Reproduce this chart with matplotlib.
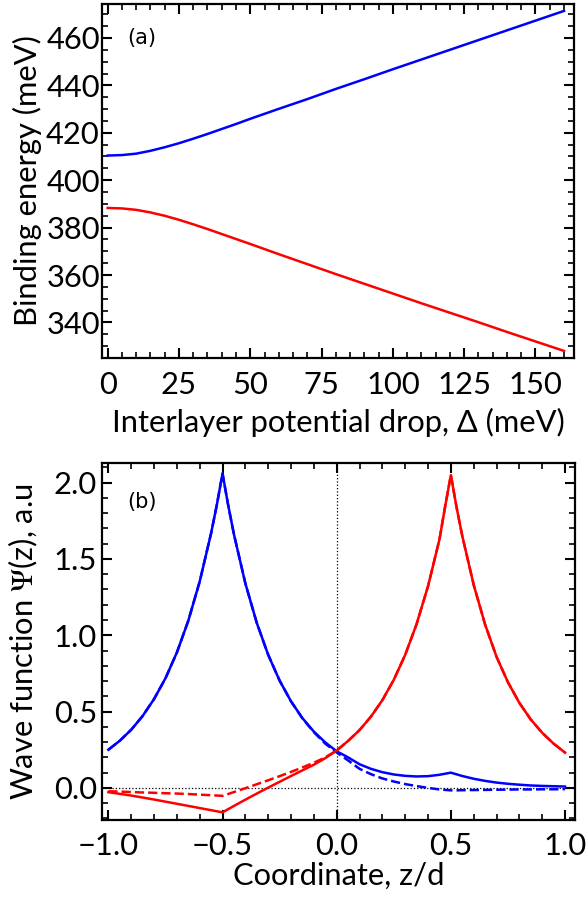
import matplotlib
matplotlib.use("Agg")
import matplotlib.pyplot as plt
from matplotlib.ticker import MultipleLocator

plt.rcParams['font.family'] = ['Lato', 'DejaVu Sans']
plt.rcParams['mathtext.fontset'] = 'stix'

# ---- Panel (a) data ----
delta = [0, 5, 10, 15, 20, 25, 30, 35, 40, 45, 50, 60, 70, 80, 90, 100,
         110, 120, 130, 140, 150, 160]
e_upper = [410.4, 410.6, 411.2, 412.4, 413.9, 415.6, 417.5, 419.5, 421.6, 423.7, 425.9,
           430.1, 434.2, 438.5, 442.6, 446.8, 450.9, 455.0, 459.1, 463.2, 467.3, 471.4]
e_lower = [388.3, 388.1, 387.5, 386.4, 385.0, 383.3, 381.4, 379.4, 377.3, 375.2, 373.1,
           368.8, 364.6, 360.4, 356.3, 352.2, 348.1, 344.1, 340.1, 336.0, 332.0, 328.0]

# ---- Panel (b) data ----
z = [-1.0, -0.95, -0.9, -0.85, -0.8, -0.75, -0.7, -0.65, -0.6, -0.55, -0.525, -0.5,
     -0.475, -0.45, -0.4, -0.35, -0.3, -0.25, -0.2, -0.15, -0.1, -0.05, 0.0,
     0.05, 0.1, 0.15, 0.2, 0.25, 0.3, 0.35, 0.4, 0.45, 0.475, 0.5,
     0.525, 0.55, 0.6, 0.65, 0.7, 0.75, 0.8, 0.85, 0.9, 0.95, 1.0]
blue_solid = [0.25, 0.309, 0.381, 0.471, 0.582, 0.718, 0.887, 1.095, 1.352, 1.669, 1.854, 2.06,
              1.850, 1.661, 1.340, 1.081, 0.872, 0.703, 0.567, 0.457, 0.369, 0.298, 0.240,
              0.200, 0.155, 0.125, 0.103, 0.088, 0.079, 0.075, 0.077, 0.086, 0.093, 0.100,
              0.089, 0.078, 0.060, 0.046, 0.035, 0.027, 0.021, 0.016, 0.013, 0.011, 0.009]
blue_dashed = [0.25, 0.309, 0.381, 0.471, 0.582, 0.718, 0.887, 1.095, 1.352, 1.669, 1.854, 2.06,
               1.850, 1.661, 1.340, 1.081, 0.872, 0.703, 0.567, 0.455, 0.365, 0.290, 0.232,
               0.180, 0.125, 0.090, 0.062, 0.042, 0.025, 0.012, 0.000, -0.010, -0.013, -0.016,
               -0.016, -0.015, -0.014, -0.013, -0.012, -0.011, -0.010, -0.010, -0.009, -0.009, -0.008]
red_solid = [-0.028, -0.039, -0.050, -0.063, -0.076, -0.090, -0.104, -0.118, -0.132, -0.146, -0.153, -0.160,
             -0.139, -0.118, -0.077, -0.037, 0.002, 0.040, 0.078, 0.115, 0.152, 0.195, 0.245,
             0.308, 0.379, 0.467, 0.575, 0.708, 0.872, 1.074, 1.322, 1.628, 1.845, 2.05,
             1.838, 1.65, 1.33, 1.07, 0.859, 0.692, 0.557, 0.448, 0.361, 0.290, 0.231]
red_dashed = [-0.022, -0.024, -0.027, -0.030, -0.032, -0.035, -0.037, -0.040, -0.044, -0.048, -0.050, -0.052,
              -0.040, -0.027, -0.002, 0.024, 0.050, 0.077, 0.105, 0.134, 0.165, 0.200, 0.245,
              0.308, 0.379, 0.467, 0.575, 0.708, 0.872, 1.074, 1.322, 1.628, 1.845, 2.05,
              1.838, 1.65, 1.33, 1.07, 0.859, 0.692, 0.557, 0.448, 0.361, 0.290, 0.231]

fig = plt.figure(figsize=(5.86, 8.98), dpi=100)
ax1 = fig.add_axes([0.174, 0.6013, 0.8055, 0.3942])
ax2 = fig.add_axes([0.174, 0.0869, 0.807, 0.3972])

BLUE = '#0000ff'
RED = '#ff0000'
LW = 1.8
FS = 18

def style(ax, ypad):
    ax.tick_params(which='both', direction='in', top=True, right=True, labelsize=FS)
    ax.tick_params(which='major', length=7, width=1.5)
    ax.tick_params(which='minor', length=4, width=1.2)
    ax.tick_params(axis='x', which='both', pad=9)
    ax.tick_params(axis='y', which='both', pad=ypad)
    for s in ax.spines.values():
        s.set_linewidth(1.6)

# Panel (a)
ax1.plot(delta, e_upper, color=BLUE, lw=LW)
ax1.plot(delta, e_lower, color=RED, lw=LW)
ax1.set_xlim(-2, 163.5)
ax1.set_ylim(325, 474.3)
ax1.xaxis.set_major_locator(MultipleLocator(25))
ax1.xaxis.set_minor_locator(MultipleLocator(5))
ax1.yaxis.set_major_locator(MultipleLocator(20))
ax1.yaxis.set_minor_locator(MultipleLocator(5))
style(ax1, 1.5)
ax1.set_xlabel('Interlayer potential drop, Δ (meV)', fontsize=FS)
ax1.set_ylabel('Binding energy (meV)', fontsize=FS)
ax1.text(0.053, 0.905, '(a)', transform=ax1.transAxes, fontsize=15,
         family='DejaVu Sans', va='center', ha='left')

# Panel (b)
ax2.axhline(0, color='black', lw=0.9, ls=':')
ax2.axvline(0, color='black', lw=0.9, ls=':')
ax2.plot(z, blue_dashed, color=BLUE, lw=LW, ls='--')
ax2.plot(z, red_dashed, color=RED, lw=LW, ls='--')
ax2.plot(z, blue_solid, color=BLUE, lw=LW)
ax2.plot(z, red_solid, color=RED, lw=LW)
ax2.set_xlim(-1.028, 1.043)
ax2.set_ylim(-0.21, 2.127)
ax2.xaxis.set_major_locator(MultipleLocator(0.5))
ax2.xaxis.set_minor_locator(MultipleLocator(0.1))
ax2.yaxis.set_major_locator(MultipleLocator(0.5))
ax2.yaxis.set_minor_locator(MultipleLocator(0.1))
style(ax2, 3.5)
ax2.set_xlabel('Coordinate, z/d', fontsize=FS)
ax2.set_ylabel(r'Wave function $\mathrm{\Psi}$(z), a.u', fontsize=FS)
ax2.text(0.053, 0.891, '(b)', transform=ax2.transAxes, fontsize=15,
         family='DejaVu Sans', va='center', ha='left')

# fit label font size to the reference label width (about 453 px)
fig.canvas.draw()
r = fig.canvas.get_renderer()
w = ax1.xaxis.label.get_window_extent(r).width
fs = FS * 453.0 / w
for ax in (ax1, ax2):
    ax.xaxis.label.set_fontsize(fs)
    ax.yaxis.label.set_fontsize(fs)
    ax.tick_params(labelsize=fs)

# label positions (axes coordinates)
ax1.xaxis.set_label_coords(0.5, -0.141)
ax2.xaxis.set_label_coords(0.5, -0.118)
ax1.yaxis.set_label_coords(-0.127, 0.5)
ax2.yaxis.set_label_coords(-0.131, 0.5)

fig.savefig('out.png', dpi=100)
